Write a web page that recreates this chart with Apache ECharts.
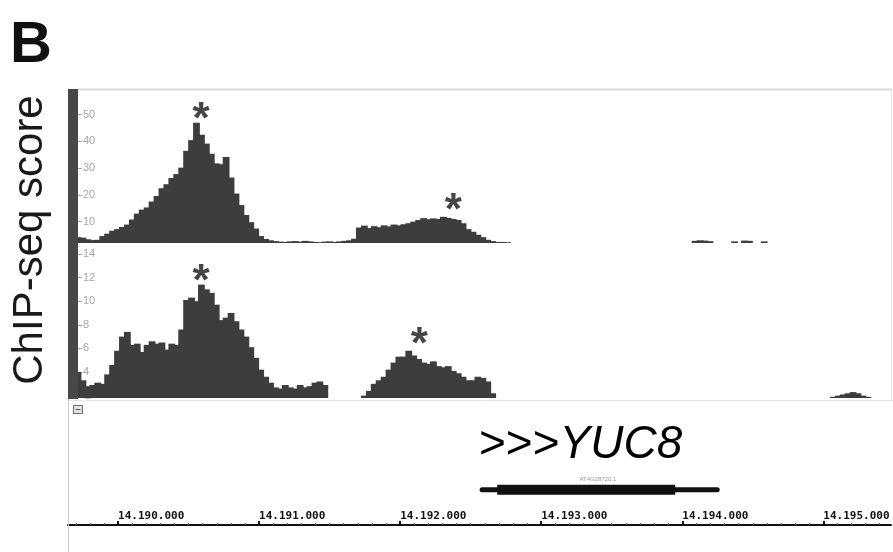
<!DOCTYPE html>
<html>
<head>
<meta charset="utf-8">
<script src="https://cdn.jsdelivr.net/npm/echarts@6/dist/echarts.min.js"></script>
<style>
  html, body { margin: 0; padding: 0; background: #fff; }
  #chart { width: 893px; height: 552px; }
</style>
</head>
<body>
<div id="chart"></div>
<script>
// Genomic window (bp) shared by both ChIP-seq tracks and the coordinate ruler
const X_MIN = 14189645;
const X_MAX = 14195480;

// Coverage bins: each bin is BIN_BP wide, bin 0 is centred on FIRST_BIN
const BIN_BP = 35;
const FIRST_BIN = 14189716;

// Upper track: first bin of each covered stretch, and the scores along it
const upperStarts = [0, 125, 133, 135, 139];
const upperRuns = [
  [4.2, 4.0, 3.4, 3.1, 3.2, 4.6, 5.5, 6.6, 7.2, 8.0,
   8.9, 10.8, 13.0, 14.5, 15.3, 17.5, 19.6, 22.5, 24.0, 26.3,
   27.8, 30.2, 36.5, 40.5, 47.0, 42.5, 39.2, 35.4, 31.8, 31.5,
   34.2, 26.5, 20.5, 16.2, 12.5, 9.8, 7.4, 4.6, 3.5, 3.0,
   2.7, 2.5, 2.4, 2.6, 2.7, 2.5, 2.8, 2.6, 2.4, 2.3,
   2.5, 2.6, 2.4, 2.6, 2.8, 3.0, 3.6, 7.8, 8.5, 7.6,
   8.3, 7.9, 8.6, 8.2, 8.9, 8.6, 9.0, 9.4, 10.0, 10.6,
   11.3, 10.9, 11.2, 11.0, 11.8, 11.4, 11.0, 10.6, 9.4, 7.2,
   6.2, 5.1, 4.2, 3.2, 2.7, 2.4, 2.4, 2.3],
  [2.8, 3.0, 2.9, 2.7],
  [2.6],
  [2.9, 2.8],
  [2.6]
];

// Lower track
const lowerStarts = [0, 58, 153];
const lowerRuns = [
  [4.0, 3.3, 2.8, 2.9, 3.1, 3.0, 3.8, 4.6, 5.8, 7.0,
   7.4, 6.3, 6.4, 5.7, 6.3, 6.6, 6.4, 6.5, 5.9, 6.4,
   6.3, 7.6, 10.1, 10.3, 10.0, 11.4, 11.0, 10.7, 9.7, 8.4,
   8.6, 9.0, 8.3, 7.6, 7.0, 6.1, 5.2, 4.2, 3.6, 3.1,
   2.7, 2.6, 2.9, 2.7, 2.6, 2.9, 2.7, 2.8, 3.1, 3.2, 2.9],
  [2.0, 2.4, 3.0, 3.3, 3.6, 4.2, 4.8, 5.3, 5.3, 5.8,
   5.4, 5.1, 4.8, 4.7, 4.9, 4.5, 4.4, 4.5, 4.1, 3.9,
   3.6, 3.3, 3.3, 3.6, 3.5, 3.2, 2.2],
  [1.9, 2.0, 2.1, 2.2, 2.3, 2.2, 2.0, 1.9]
];

// Score scale labels on each track
const upperTicks = [10, 20, 30, 40, 50];
const lowerTicks = [2, 4, 6, 8, 10, 12, 14];

// Ruler labels (bp)
const rulerTicks = [14190000, 14191000, 14192000, 14193000, 14194000, 14195000];

// Called peaks (position, height of the star)
const upperPeaks = [[14190589, 51.4], [14192376, 17.3]];
const lowerPeaks = [[14190589, 12.4], [14192135, 7.1]];

// Gene model: full transcript and coding part
const geneSpan = [14192581, 14194248];
const geneCds = [14192688, 14193950];
const geneName = 'YUC8';
const geneId = 'AT4G28720.1';

function toBars(starts, runs) {
  const out = [];
  starts.forEach((s, k) => {
    runs[k].forEach((v, j) => out.push([FIRST_BIN + (s + j) * BIN_BP, v]));
  });
  return out;
}

const rulerMinor = [];
for (let p = 14189700; p <= X_MAX; p += 100) {
  if (p % 1000 !== 0) rulerMinor.push(p);
}

function fmtBp(v) {
  const s = String(Math.round(v));
  return s.slice(0, 2) + '.' + s.slice(2, 5) + '.' + s.slice(5);
}

const FILL = '#3d3d3d';
const TICK_GREY = '#a6a6a6';

function trackYAxis(gridIndex, min, max, ticks) {
  return {
    type: 'value', gridIndex, min, max, position: 'left', offset: -10,
    axisLine: { show: false },
    splitLine: { show: false },
    axisTick: {
      show: true, inside: true, length: 4, customValues: ticks,
      lineStyle: { color: TICK_GREY, width: 1 }
    },
    axisLabel: {
      show: true, inside: true, margin: 5, customValues: ticks,
      color: TICK_GREY, fontSize: 11, fontFamily: 'Liberation Sans',
      formatter: v => (v === 2 ? '{box|2}' : String(v)),
      rich: { box: { backgroundColor: '#fff', color: TICK_GREY, fontSize: 11, padding: [0, 2, 0, 2] } }
    }
  };
}

function hiddenX(gridIndex) {
  return { type: 'value', gridIndex, min: X_MIN, max: X_MAX, show: false };
}

function peakStars(xi, yi, data) {
  return {
    type: 'scatter', xAxisIndex: xi, yAxisIndex: yi, data,
    symbolSize: 0, silent: true, z: 5,
    label: {
      show: true, position: 'inside', formatter: '*', offset: [0, 10],
      fontSize: 44, fontWeight: 'bold', fontFamily: 'Liberation Sans', color: '#161616'
    }
  };
}

const chart = echarts.init(document.getElementById('chart'), null, { renderer: 'canvas' });

chart.setOption({
  animation: false,
  backgroundColor: '#fff',
  grid: [
    { left: 68, right: 2, top: 88, height: 155 },
    { left: 68, right: 2, top: 248, height: 150 },
    { left: 68, right: 2, top: 430, height: 95 }
  ],
  xAxis: [
    hiddenX(0),
    hiddenX(1),
    {
      type: 'value', gridIndex: 2, min: X_MIN, max: X_MAX, position: 'bottom',
      axisLine: { show: true, lineStyle: { color: '#111', width: 2 } },
      splitLine: { show: false },
      axisTick: { show: true, inside: true, length: 4, customValues: rulerTicks,
        lineStyle: { color: '#111', width: 2 } },
      axisLabel: {
        show: true, inside: true, margin: 3, customValues: rulerTicks, align: 'left',
        formatter: fmtBp, color: '#111', fontSize: 11, fontWeight: 'bold',
        fontFamily: 'DejaVu Sans Mono'
      }
    },
    {
      type: 'value', gridIndex: 2, min: X_MIN, max: X_MAX, position: 'bottom',
      axisLine: { show: false },
      splitLine: { show: false },
      axisLabel: { show: false },
      axisTick: { show: true, inside: true, length: 2, customValues: rulerMinor,
        lineStyle: { color: '#555', width: 1 } }
    }
  ],
  yAxis: [
    trackYAxis(0, 2, 60, upperTicks),
    trackYAxis(1, 1.8, 14.5, lowerTicks),
    { type: 'value', gridIndex: 2, min: 0, max: 100, show: false }
  ],
  series: [
    {
      type: 'bar', xAxisIndex: 0, yAxisIndex: 0, data: toBars(upperStarts, upperRuns),
      barWidth: 6.8, itemStyle: { color: FILL }, silent: true
    },
    {
      type: 'bar', xAxisIndex: 1, yAxisIndex: 1, data: toBars(lowerStarts, lowerRuns),
      barWidth: 6.8, itemStyle: { color: FILL }, silent: true
    },
    peakStars(0, 0, upperPeaks),
    peakStars(1, 1, lowerPeaks),
    {
      type: 'line', xAxisIndex: 2, yAxisIndex: 2, symbol: 'none', silent: true,
      data: [[geneSpan[0], 37], [geneSpan[1], 37]],
      lineStyle: { color: '#111', width: 5, cap: 'round' }
    },
    {
      type: 'line', xAxisIndex: 2, yAxisIndex: 2, symbol: 'none', silent: true,
      data: [[geneCds[0], 37], [geneCds[1], 37]],
      lineStyle: { color: '#111', width: 10, cap: 'butt' }
    }
  ],
  graphic: [
    // frame of the track panel
    { type: 'line', shape: { x1: 78, y1: 89.5, x2: 892, y2: 89.5 }, style: { stroke: '#d9d9d9', lineWidth: 2 }, z: 1 },
    { type: 'line', shape: { x1: 891.5, y1: 89, x2: 891.5, y2: 400 }, style: { stroke: '#e4e4e4', lineWidth: 1 }, z: 1 },
    { type: 'line', shape: { x1: 68, y1: 400.5, x2: 893, y2: 400.5 }, style: { stroke: '#e6e6e6', lineWidth: 1 }, z: 1 },
    { type: 'line', shape: { x1: 68.5, y1: 399, x2: 68.5, y2: 552 }, style: { stroke: '#c8c8c8', lineWidth: 1 }, z: 1 },
    // dark scale strip on the left of the tracks
    { type: 'rect', shape: { x: 68, y: 89, width: 10, height: 310 }, style: { fill: '#474747' }, z: 10 },
    // collapse toggle
    { type: 'rect', shape: { x: 73.5, y: 405.5, width: 9, height: 8 }, style: { fill: '#e2e2e2', stroke: '#6a6a6a', lineWidth: 1 }, z: 10 },
    { type: 'line', shape: { x1: 75.5, y1: 409.5, x2: 80.5, y2: 409.5 }, style: { stroke: '#555', lineWidth: 1 }, z: 11 },
    // panel letter
    { type: 'text', left: 10, top: 17, style: { text: 'B', fontSize: 58, fontWeight: 'bold', fontFamily: 'Liberation Sans', fill: '#111' }, z: 10 },
    // score title, rotated
    { type: 'text', x: 30, y: 240, rotation: Math.PI / 2,
      style: { text: 'ChIP-seq score', fontSize: 42, fontFamily: 'Liberation Sans', fill: '#1a1a1a', align: 'center', verticalAlign: 'middle' }, z: 10 },
    // gene name
    { type: 'text', x: 479, y: 445,
      style: {
        text: '{a|>>>}{b|' + geneName + '}', verticalAlign: 'middle', align: 'left',
        rich: {
          a: { fontSize: 46, fontFamily: 'Liberation Sans', color: '#1a1a1a' },
          b: { fontSize: 46, fontFamily: 'Liberation Sans', fontStyle: 'italic', color: '#1a1a1a' }
        }
      }, z: 10 },
    { type: 'text', x: 598, y: 479,
      style: { text: geneId, fontSize: 6, fontFamily: 'Liberation Sans', fill: '#9a9a9a', align: 'center', verticalAlign: 'middle' }, z: 10 }
  ]
});
</script>
</body>
</html>
